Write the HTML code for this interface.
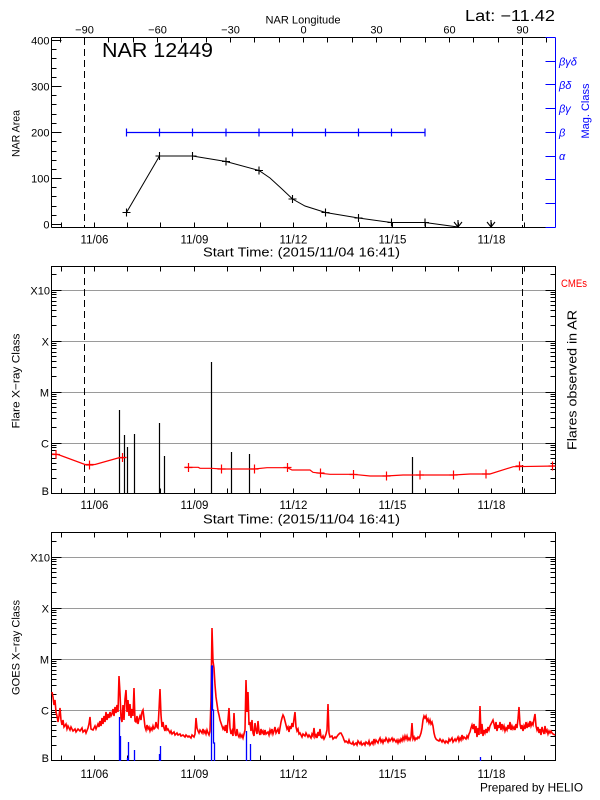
<!DOCTYPE html>
<html><head><meta charset="utf-8"><style>
html,body{margin:0;padding:0;background:#fff;}
svg{display:block;}
text{font-family:"Liberation Sans",sans-serif;}
</style></head><body>
<svg width="600" height="800" viewBox="0 0 600 800" xmlns="http://www.w3.org/2000/svg">
<rect width="600" height="800" fill="#fff"/>

<!-- ================= TOP PANEL ================= -->
<text x="303" y="23.5" font-size="11" text-anchor="middle" textLength="75" lengthAdjust="spacingAndGlyphs">NAR Longitude</text>
<text x="465" y="21" font-size="15.5" textLength="90" lengthAdjust="spacingAndGlyphs">Lat: −11.42</text>
<text x="102" y="57" font-size="20" textLength="111" lengthAdjust="spacingAndGlyphs">NAR 12449</text>

<g font-size="11" text-anchor="middle">
<text x="84.5" y="33.5">−90</text>
<text x="157.5" y="33.5">−60</text>
<text x="230.5" y="33.5">−30</text>
<text x="303.5" y="33.5">0</text>
<text x="376.5" y="33.5">30</text>
<text x="449.5" y="33.5">60</text>
<text x="522.5" y="33.5">90</text>
</g>

<path d="M60.5 37.5v5M84.5 37.5v5M108.5 37.5v5M133.5 37.5v5M157.5 37.5v5M181.5 37.5v5M206.5 37.5v5M230.5 37.5v5M254.5 37.5v5M279.5 37.5v5M303.5 37.5v5M327.5 37.5v5M352.5 37.5v5M376.5 37.5v5M400.5 37.5v5M425.5 37.5v5M449.5 37.5v5M473.5 37.5v5M498.5 37.5v5M522.5 37.5v5M546.5 37.5v5" stroke="#000" stroke-width="1" fill="none"/>
<path d="M61.5 227.5v-5M94.5 227.5v-5M127.5 227.5v-5M160.5 227.5v-5M194.5 227.5v-5M227.5 227.5v-5M260.5 227.5v-5M293.5 227.5v-5M326.5 227.5v-5M359.5 227.5v-5M392.5 227.5v-5M425.5 227.5v-5M458.5 227.5v-5M491.5 227.5v-5M524.5 227.5v-5" stroke="#000" stroke-width="1" fill="none"/>
<path d="M51.5 224.5h10M51.5 215.5h5M51.5 206.5h5M51.5 196.5h5M51.5 187.5h5M51.5 178.5h10M51.5 169.5h5M51.5 160.5h5M51.5 151.5h5M51.5 141.5h5M51.5 132.5h10M51.5 123.5h5M51.5 114.5h5M51.5 104.5h5M51.5 95.5h5M51.5 86.5h10M51.5 77.5h5M51.5 68.5h5M51.5 58.5h5M51.5 49.5h5M51.5 40.5h10" stroke="#000" stroke-width="1" fill="none"/>
<g font-size="11" text-anchor="end">
<text x="49.5" y="228.5">0</text>
<text x="49.5" y="182.5">100</text>
<text x="49.5" y="136.5">200</text>
<text x="49.5" y="90.5">300</text>
<text x="49.5" y="44.5">400</text>
</g>
<text transform="translate(19.5,133.5) rotate(-90)" font-size="11" text-anchor="middle" textLength="47" lengthAdjust="spacingAndGlyphs">NAR Area</text>

<path d="M51.5 37.5H555.5M51.5 37.5V227.5M51.5 227.5H555.5" stroke="#000" stroke-width="1" fill="none"/>
<path d="M555.5 37.5V227.5" stroke="#0000ff" stroke-width="1" fill="none"/>
<path d="M545.5 37.5h10M545.5 61.5h10M545.5 84.5h10M545.5 108.5h10M545.5 132.5h10M545.5 156.5h10M545.5 179.5h10M545.5 203.5h10M545.5 227.5h10" stroke="#0000ff" stroke-width="1" fill="none"/>
<g font-size="11" fill="#0000ff" font-style="italic">
<text x="559" y="65.5">βγδ</text>
<text x="559" y="89">βδ</text>
<text x="559" y="112.5">βγ</text>
<text x="559" y="136.5">β</text>
<text x="559" y="160">α</text>
</g>
<text transform="translate(589,111) rotate(-90)" font-size="11" fill="#0000ff" text-anchor="middle" textLength="55" lengthAdjust="spacingAndGlyphs">Mag. Class</text>

<path d="M84.5 38V227M522.5 38V227" stroke="#000" stroke-width="1" stroke-dasharray="7,4" fill="none"/>

<path d="M126.5 132.5H425" stroke="#0000ff" stroke-width="1.3" fill="none"/>
<path d="M126.5 128.5v8M159.5 128.5v8M192.5 128.5v8M226 128.5v8M259 128.5v8M292.5 128.5v8M325.5 128.5v8M358.5 128.5v8M391.5 128.5v8M425 128.5v8" stroke="#0000ff" stroke-width="1.2" fill="none"/>

<polyline points="126.5,212.5 159.5,156 192.5,156 226,161.5 259,170.5 270,178 282,189 292.5,199 305,206 325.5,212.5 358.5,218 391.5,222.5 425,222.5 458,227" stroke="#000" stroke-width="1" fill="none"/>
<path d="M122.5 212.5h8M126.5 208.5v8M155.5 156h8M159.5 152v8M188.5 156h8M192.5 152v8M222 161.5h8M226 157.5v8M255 170.5h8M259 166.5v8M288.5 199h8M292.5 195v8M321.5 212.5h8M325.5 208.5v8M354.5 218h8M358.5 214v8M387.5 222.5h8M391.5 218.5v8M421 222.5h8M425 218.5v8" stroke="#000" stroke-width="1.1" fill="none"/>
<path d="M458 220v7M454 222l4 5l4-5M491 220v7M487 222l4 5l4-5" stroke="#000" stroke-width="1.1" fill="none"/>

<g font-size="11.5" text-anchor="middle">
<text x="94.5" y="243.5">11/06</text>
<text x="194.5" y="243.5">11/09</text>
<text x="293.5" y="243.5">11/12</text>
<text x="392.5" y="243.5">11/15</text>
<text x="491.5" y="243.5">11/18</text>
</g>
<text x="203" y="256.5" font-size="12.5" textLength="197" lengthAdjust="spacingAndGlyphs">Start Time: (2015/11/04 16:41)</text>

<!-- ================= MIDDLE PANEL ================= -->
<path d="M51.5 290.5H555.5M51.5 341.5H555.5M51.5 392.5H555.5M51.5 443.5H555.5" stroke="#9a9a9a" stroke-width="1" fill="none"/>
<path d="M51.5 266.5H555.5V493.5H51.5Z" stroke="#000" stroke-width="1" fill="none"/>
<path d="M51.5 478.5h5M51.5 469.5h5M51.5 463.5h5M51.5 458.5h5M51.5 454.5h5M51.5 450.5h5M51.5 447.5h5M51.5 445.5h5M51.5 443.5h10M51.5 427.5h5M51.5 418.5h5M51.5 412.5h5M51.5 407.5h5M51.5 403.5h5M51.5 399.5h5M51.5 396.5h5M51.5 394.5h5M51.5 392.5h10M51.5 376.5h5M51.5 367.5h5M51.5 361.5h5M51.5 356.5h5M51.5 352.5h5M51.5 348.5h5M51.5 345.5h5M51.5 343.5h5M51.5 341.5h10M51.5 325.5h5M51.5 316.5h5M51.5 310.5h5M51.5 305.5h5M51.5 301.5h5M51.5 297.5h5M51.5 294.5h5M51.5 292.5h5M51.5 290.5h10M51.5 274.5h5
M555.5 478.5h-5M555.5 469.5h-5M555.5 463.5h-5M555.5 458.5h-5M555.5 454.5h-5M555.5 450.5h-5M555.5 447.5h-5M555.5 445.5h-5M555.5 443.5h-10M555.5 427.5h-5M555.5 418.5h-5M555.5 412.5h-5M555.5 407.5h-5M555.5 403.5h-5M555.5 399.5h-5M555.5 396.5h-5M555.5 394.5h-5M555.5 392.5h-10M555.5 376.5h-5M555.5 367.5h-5M555.5 361.5h-5M555.5 356.5h-5M555.5 352.5h-5M555.5 348.5h-5M555.5 345.5h-5M555.5 343.5h-5M555.5 341.5h-10M555.5 325.5h-5M555.5 316.5h-5M555.5 310.5h-5M555.5 305.5h-5M555.5 301.5h-5M555.5 297.5h-5M555.5 294.5h-5M555.5 292.5h-5M555.5 290.5h-10M555.5 274.5h-5" stroke="#000" stroke-width="1" fill="none"/>
<path d="M61.5 493.5v-5M94.5 493.5v-5M127.5 493.5v-5M160.5 493.5v-5M194.5 493.5v-5M227.5 493.5v-5M260.5 493.5v-5M293.5 493.5v-5M326.5 493.5v-5M359.5 493.5v-5M392.5 493.5v-5M425.5 493.5v-5M458.5 493.5v-5M491.5 493.5v-5M524.5 493.5v-5
M61.5 266.5v5M94.5 266.5v5M127.5 266.5v5M160.5 266.5v5M194.5 266.5v5M227.5 266.5v5M260.5 266.5v5M293.5 266.5v5M326.5 266.5v5M359.5 266.5v5M392.5 266.5v5M425.5 266.5v5M458.5 266.5v5M491.5 266.5v5M524.5 266.5v5" stroke="#000" stroke-width="1" fill="none"/>
<g font-size="11" text-anchor="end">
<text x="50" y="294.5">X10</text>
<text x="49" y="345.5">X</text>
<text x="49" y="396.5">M</text>
<text x="49" y="447.5">C</text>
<text x="49" y="495">B</text>
</g>
<text transform="translate(19.5,381) rotate(-90)" font-size="11" text-anchor="middle" textLength="95" lengthAdjust="spacingAndGlyphs">Flare X−ray Class</text>
<text transform="translate(576.5,380) rotate(-90)" font-size="13" text-anchor="middle" textLength="140" lengthAdjust="spacingAndGlyphs">Flares observed in AR</text>
<text x="561" y="287" font-size="11" fill="#ff0000" textLength="26" lengthAdjust="spacingAndGlyphs">CMEs</text>

<path d="M84.5 267V493M522.5 267V493" stroke="#000" stroke-width="1" stroke-dasharray="7,4" fill="none"/>

<path d="M119.5 494V410M124.5 494V435M127.5 494V447M134.5 494V434M159.5 494V423M164.5 494V456M211.5 494V362M231.5 494V452M249.5 494V454M412.5 494V457" stroke="#000" stroke-width="1.2" fill="none"/>

<polyline points="52,454 58,454.5 85,464.5 95,464.5 118,458 126,457.5" stroke="#ff0000" stroke-width="1.2" fill="none"/>
<polyline points="184.3,467.3 198.3,467.3 200,468.3 211,468.3 221.7,469 254.3,469 267,467.7 287.3,467.7 292,470 310,470 313,472.3 320.7,473.3 330,474.3 353.3,474.3 370,476 386,476 403,475 453.3,475 470,474 490,474 513.3,466.7 555.5,466" stroke="#ff0000" stroke-width="1.2" fill="none"/>
<path d="M52 454.5h8M56 450v9M85.5 465h8M89.5 460.5v9M118.5 457.5h8M122.5 453v9M184.5 467.5h8M188.5 463v9M217.5 469h8M221.5 464.5v9M250.5 469h8M254.5 464.5v9M283.5 467.5h8M287.5 463v9M316.5 473h8M320.5 468.5v9M349.5 474.5h8M353.5 470v9M382.5 476h8M386.5 471.5v9M416 475h8M420 470.5v9M449.5 475h8M453.5 470.5v9M482 474h8M486 469.5v9M515.5 466h8M519.5 461.5v9M548.5 466h7M552.5 461.5v9" stroke="#ff0000" stroke-width="1.2" fill="none"/>

<g font-size="11.5" text-anchor="middle">
<text x="94.5" y="509">11/06</text>
<text x="194.5" y="509">11/09</text>
<text x="293.5" y="509">11/12</text>
<text x="392.5" y="509">11/15</text>
<text x="491.5" y="509">11/18</text>
</g>
<text x="203" y="523.5" font-size="12.5" textLength="197" lengthAdjust="spacingAndGlyphs">Start Time: (2015/11/04 16:41)</text>

<!-- ================= BOTTOM PANEL ================= -->
<path d="M51.5 557.5H555.5M51.5 608.5H555.5M51.5 659.5H555.5M51.5 710.5H555.5" stroke="#9a9a9a" stroke-width="1" fill="none"/>
<path d="M51.5 532.5H555.5V760.5H51.5Z" stroke="#000" stroke-width="1" fill="none"/>
<path d="M51.5 745.5h5M51.5 736.5h5M51.5 730.5h5M51.5 725.5h5M51.5 721.5h5M51.5 717.5h5M51.5 714.5h5M51.5 712.5h5M51.5 710.5h10M51.5 694.5h5M51.5 685.5h5M51.5 679.5h5M51.5 674.5h5M51.5 670.5h5M51.5 666.5h5M51.5 663.5h5M51.5 661.5h5M51.5 659.5h10M51.5 643.5h5M51.5 634.5h5M51.5 628.5h5M51.5 623.5h5M51.5 619.5h5M51.5 615.5h5M51.5 612.5h5M51.5 610.5h5M51.5 608.5h10M51.5 592.5h5M51.5 583.5h5M51.5 577.5h5M51.5 572.5h5M51.5 568.5h5M51.5 564.5h5M51.5 561.5h5M51.5 559.5h5M51.5 557.5h10M51.5 541.5h5
M555.5 745.5h-5M555.5 736.5h-5M555.5 730.5h-5M555.5 725.5h-5M555.5 721.5h-5M555.5 717.5h-5M555.5 714.5h-5M555.5 712.5h-5M555.5 710.5h-10M555.5 694.5h-5M555.5 685.5h-5M555.5 679.5h-5M555.5 674.5h-5M555.5 670.5h-5M555.5 666.5h-5M555.5 663.5h-5M555.5 661.5h-5M555.5 659.5h-10M555.5 643.5h-5M555.5 634.5h-5M555.5 628.5h-5M555.5 623.5h-5M555.5 619.5h-5M555.5 615.5h-5M555.5 612.5h-5M555.5 610.5h-5M555.5 608.5h-10M555.5 592.5h-5M555.5 583.5h-5M555.5 577.5h-5M555.5 572.5h-5M555.5 568.5h-5M555.5 564.5h-5M555.5 561.5h-5M555.5 559.5h-5M555.5 557.5h-10M555.5 541.5h-5" stroke="#000" stroke-width="1" fill="none"/>
<path d="M61.5 760.5v-5M94.5 760.5v-5M127.5 760.5v-5M160.5 760.5v-5M194.5 760.5v-5M227.5 760.5v-5M260.5 760.5v-5M293.5 760.5v-5M326.5 760.5v-5M359.5 760.5v-5M392.5 760.5v-5M425.5 760.5v-5M458.5 760.5v-5M491.5 760.5v-5M524.5 760.5v-5
M61.5 532.5v5M94.5 532.5v5M127.5 532.5v5M160.5 532.5v5M194.5 532.5v5M227.5 532.5v5M260.5 532.5v5M293.5 532.5v5M326.5 532.5v5M359.5 532.5v5M392.5 532.5v5M425.5 532.5v5M458.5 532.5v5M491.5 532.5v5M524.5 532.5v5" stroke="#000" stroke-width="1" fill="none"/>
<g font-size="11" text-anchor="end">
<text x="50" y="561.5">X10</text>
<text x="49" y="612.5">X</text>
<text x="49" y="663.5">M</text>
<text x="49" y="714.5">C</text>
<text x="49" y="762">B</text>
</g>
<text transform="translate(19.5,647.5) rotate(-90)" font-size="11" text-anchor="middle" textLength="95" lengthAdjust="spacingAndGlyphs">GOES X−ray Class</text>

<polyline stroke="#ff0000" stroke-width="1.6" fill="none" stroke-linejoin="miter" points="52,692 53,697 54,705 55,700 56,712 57,716 58,722 59,716 60,708 61,720 62,725 63,720 64,727 66,724 67,729 68,726 70,730 71,727 73,731 75,729 76,732 78,729 80,731 82,728 83,732 85,730 86,733 88,728 89,724 90,717 91,729 93,730 95,726 96,729 98,724 99,727 100,721 101,726 102,718 103,724 104,716 105,722 106,712 107,720 108,714 109,718 110,712 111,716 112,714 113,709 114,716 115,707 116,713 117,705 118,712 119,676 120,693 121,718 122,722 123,705 124,720 125,699 126,690 127,712 128,700 129,716 130,704 131,718 132,709 133,716 134,688 135,721 136,722 137,716 138,724 139,719 140,716 141,720 142,712 143,710 144,718 145,727 146,730 147,725 148,729 149,727 150,731 151,728 152,730 153,726 154,729 155,728 156,722 157,727 158,728 159,710 160,689 161,715 162,727 163,722 164,728 165,731 166,725 167,730 168,729 170,733 171,731 172,734 174,732 175,735 177,733 178,735 180,734 181,736 183,735 185,737 186,735 188,737 189,736 191,738 192,735 194,737 195,734 196,718 197,728 198,731 199,733 200,730 202,733 203,729 204,733 205,731 206,734 207,730 208,733 209,735 210,731 211,700 212,628 213,661 214,668 215,685 216,697 217,704 218,711 219,715 220,720 221,723 222,726 223,729 224,727 225,731 226,725 227,733 228,720 229,708 230,728 231,734 232,731 233,736 234,713 235,733 236,736 237,729 238,735 239,737 240,734 241,737 242,735 243,738 244,734 245,730 246,680 247,712 248,692 249,725 250,722 251,731 252,720 253,733 254,736 255,723 256,730 257,734 258,721 259,732 260,735 261,729 262,733 263,731 264,735 265,730 266,734 268,732 269,735 270,730 271,733 272,729 273,734 274,731 275,727 276,733 278,729 279,734 280,728 281,722 282,718 283,715 284,717 285,721 286,725 287,729 288,727 289,732 290,726 291,729 292,723 293,727 294,719 295,712 296,727 297,731 298,729 299,734 300,733 302,737 303,734 305,736 306,733 308,737 309,735 311,738 312,734 313,736 314,728 315,737 316,735 317,738 318,732 319,736 320,729 321,737 322,738 323,736 324,739 325,737 326,734 327,730 328,704 329,733 330,737 332,736 333,739 335,737 336,738 338,735 339,734 340,733 341,733 342,735 343,737 344,740 345,742 346,741 348,743 349,740 350,743 352,744 353,742 354,745 356,743 357,745 358,741 360,744 361,742 362,745 364,743 365,745 366,742 368,744 369,741 370,745 372,742 373,744 374,739 375,743 376,740 378,743 379,740 380,738 381,742 382,740 383,743 384,740 385,741 386,738 388,742 389,739 390,741 392,738 393,741 394,739 396,742 397,740 398,743 399,740 400,742 401,739 402,741 403,737 404,740 405,736 406,739 407,736 408,740 409,738 410,740 411,737 412,723 413,739 414,737 415,740 416,738 417,739 418,737 419,738 420,736 421,733 422,728 423,720 424,716 425,718 426,716 427,721 428,719 429,723 430,720 431,724 432,722 433,726 434,733 435,737 436,739 437,740 439,741 440,739 442,742 443,740 445,743 446,741 448,743 449,739 450,741 452,738 453,742 455,739 456,741 458,737 459,741 460,738 461,740 462,735 463,739 464,737 466,739 467,736 468,738 469,734 470,732 471,728 472,725 473,729 474,724 475,733 476,726 477,737 478,728 479,735 480,706 481,734 482,724 483,736 484,730 485,733 486,729 487,733 488,727 489,730 490,726 491,724 492,722 493,720 494,724 495,729 496,722 497,731 498,725 499,728 500,722 501,730 502,724 503,729 504,726 505,731 506,728 507,730 508,725 509,729 510,722 511,730 512,726 513,729 514,727 515,730 516,724 517,728 518,719 519,707 520,724 521,729 522,725 523,731 524,726 525,729 526,722 527,728 528,724 529,727 530,721 531,726 532,723 533,725 534,719 535,714 536,726 537,730 538,727 539,733 540,729 541,735 542,727 543,731 544,734 545,726 546,732 547,730 548,734 549,731 550,733 551,731 552,733 553,734 555,735"/>

<path d="M119.5 761V717M120.5 761V736M127.5 761V758M128.5 761V742M134.5 761V750M159.5 761V754M160.5 761V746M211.5 761V666H212.5V710H213.5V743H214.5V761M246.5 761V731M250.5 761V744M480.5 761V757" stroke="#0000ff" stroke-width="1.3" fill="none"/>

<g font-size="11.5" text-anchor="middle">
<text x="94.5" y="778">11/06</text>
<text x="194.5" y="778">11/09</text>
<text x="293.5" y="778">11/12</text>
<text x="392.5" y="778">11/15</text>
<text x="491.5" y="778">11/18</text>
</g>
<text x="480" y="791.5" font-size="12" textLength="103" lengthAdjust="spacingAndGlyphs">Prepared by HELIO</text>
</svg>
</body></html>
